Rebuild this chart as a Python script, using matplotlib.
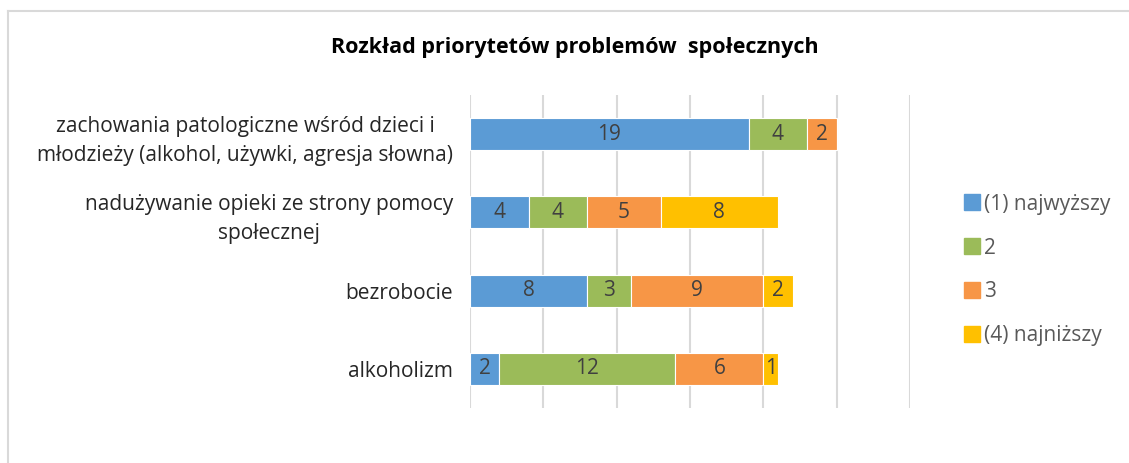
import matplotlib
matplotlib.use("Agg")
import matplotlib.pyplot as plt
from matplotlib.lines import Line2D

categories = [
    "zachowania patologiczne wśród dzieci i\nmłodzieży (alkohol, używki, agresja słowna)",
    "nadużywanie opieki ze strony pomocy\nspołecznej",
    "bezrobocie",
    "alkoholizm",
]
series_names = ["(1) najwyższy", "2", "3", "(4) najniższy"]
p1 = [19, 4, 8, 2]
p2 = [4, 4, 3, 12]
p3 = [2, 5, 9, 6]
p4 = [0, 8, 2, 1]
colors = ["#5B9BD5", "#9BBB59", "#F79646", "#FFC000"]
title = "Rozkład priorytetów problemów  społecznych"

plt.rcParams["font.family"] = ["Open Sans", "DejaVu Sans"]

fig = plt.figure(figsize=(11.29, 4.63), dpi=100)
ax = fig.add_axes([470 / 1129, 1 - 408 / 463, 440 / 1129, 313 / 463])

ypos = list(range(len(categories)))
left = [0] * len(categories)
for name, vals, col in zip(series_names, [p1, p2, p3, p4], colors):
    bars = ax.barh(ypos, vals, left=left, height=0.41, color=col,
                   edgecolor="white", linewidth=0.8, label=name, zorder=3)
    for b, v in zip(bars, vals):
        if v > 0:
            ax.text(b.get_x() + b.get_width() / 2, b.get_y() + b.get_height() / 2,
                    str(v), ha="center", va="center", fontsize=15,
                    color="#404040", zorder=4)
    left = [l + v for l, v in zip(left, vals)]

ax.set_xlim(0, 30)
ax.set_ylim(3.5, -0.5)
ax.set_xticks(range(0, 31, 5))
ax.xaxis.grid(True, color="#D9D9D9", linewidth=1.5, zorder=0)
ax.tick_params(axis="x", length=0, labelbottom=False)
ax.tick_params(axis="y", length=0, pad=12)
ax.set_yticks(ypos)
ax.set_yticklabels(categories, fontsize=15, color="#262626",
                   multialignment="center", linespacing=1.5)
for s in ax.spines.values():
    s.set_visible(False)

fig.text(575 / 1129, 1 - 47 / 463, title, ha="center", va="center",
         fontsize=15.5, fontweight="bold", color="#000000")

handles = [Line2D([], [], marker="s", linestyle="", markersize=11,
                  markerfacecolor=c, markeredgecolor=c) for c in colors]
fig.legend(handles, series_names, loc="center left",
           bbox_to_anchor=(943 / 1129, 1 - 270 / 463), frameon=False,
           fontsize=15, labelcolor="#595959", handletextpad=0.05,
           labelspacing=1.1, handlelength=1.0)

# outer chart frame
fig.add_artist(Line2D([8 / 1129, 1], [1 - 11 / 463, 1 - 11 / 463],
                      transform=fig.transFigure, color="#D9D9D9", linewidth=1.5))
fig.add_artist(Line2D([8 / 1129, 8 / 1129], [0, 1 - 11 / 463],
                      transform=fig.transFigure, color="#D9D9D9", linewidth=1.5))

fig.savefig("out.png", dpi=100, facecolor="white")
